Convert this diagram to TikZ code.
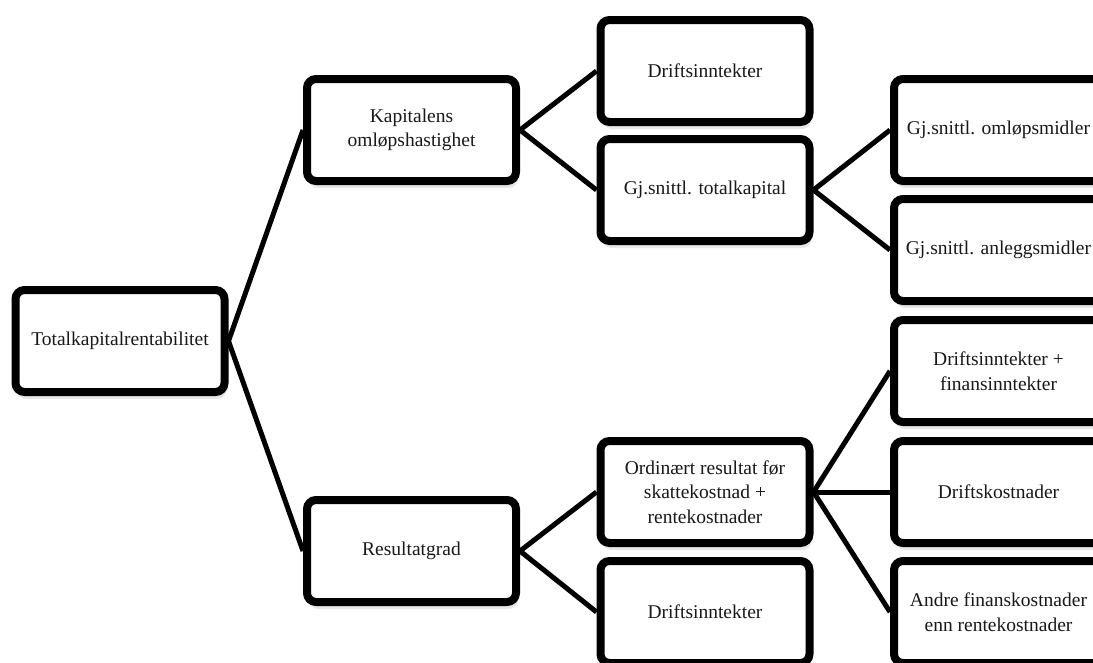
\documentclass[tikz,border=0pt]{standalone}
\usepackage{fontspec}
\setmainfont{Liberation Serif}
\usetikzlibrary{shadows}
\tikzset{
  box/.style={draw=black, line width=8pt, rounded corners=9pt, fill=white,
    minimum width=209pt, minimum height=102pt, align=center,
    text=black!90, font=\fontsize{19.5}{24.5}\selectfont,
    drop shadow={opacity=0.18, shadow xshift=2pt, shadow yshift=-7pt}},
  link/.style={line width=5pt}
}

\begin{document}
\begin{tikzpicture}[x=1pt,y=-1pt]
\clip (0,0) rectangle (1093,662);
\fill[white] (0,0) rectangle (1093,662);
\coordinate (c0) at (120,341);
\coordinate (c1) at (411.5,0);
\coordinate (c2) at (705,0);
\coordinate (c3) at (998.5,0);
% level 0 and 1
\node[box] (root) at (c0) {Totalkapitalrentabilitet};
\node[box] (kap) at (c1 |- 0,130) {Kapitalens\\omløpshastighet};
\node[box] (res) at (c1 |- 0,551) {Resultatgrad};
% level 2
\node[box] (drift) at (c2 |- 0,71) {Driftsinntekter};
\node[box] (totkap) at (c2 |- 0,190) {Gj.snittl. totalkapital};
\node[box] (ord) at (c2 |- 0,492) {Ordinært resultat før\\skattekostnad +\\rentekostnader};
\node[box] (driftb) at (c2 |- 0,612) {Driftsinntekter};
% level 3
\node[box] (omlop) at (c3 |- 0,130) {Gj.snittl. omløpsmidler};
\node[box] (anlegg) at (c3 |- 0,250) {Gj.snittl. anleggsmidler};
\node[box] (driftfin) at (c3 |- 0,371) {Driftsinntekter +\\finansinntekter};
\node[box] (driftkost) at (c3 |- 0,492) {Driftskostnader};
\node[box] (andre) at (c3 |- 0,612) {Andre finanskostnader\\enn rentekostnader};
% connectors
\draw[link] (root.east) -- (kap.west);
\draw[link] (root.east) -- (res.west);
\draw[link] (kap.east) -- (drift.west);
\draw[link] (kap.east) -- (totkap.west);
\draw[link] (totkap.east) -- (omlop.west);
\draw[link] (totkap.east) -- (anlegg.west);
\draw[link] (res.east) -- (ord.west);
\draw[link] (res.east) -- (driftb.west);
\draw[link] (ord.east) -- (driftfin.west);
\draw[link] (ord.east) -- (driftkost.west);
\draw[link] (ord.east) -- (andre.west);
\end{tikzpicture}
\end{document}
